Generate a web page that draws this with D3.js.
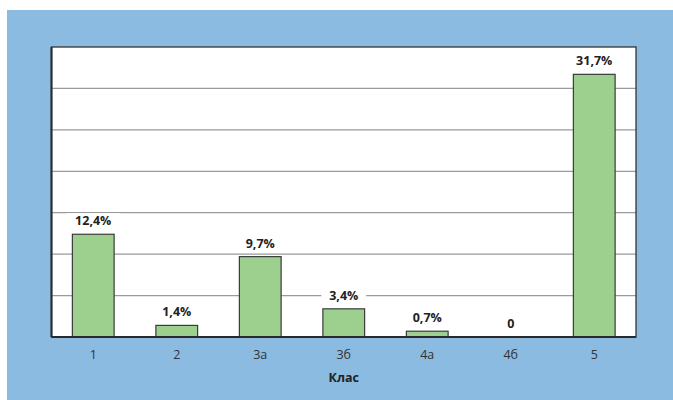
<!DOCTYPE html>
<html>
<head>
<meta charset="utf-8">
<script src="https://cdn.jsdelivr.net/npm/d3@7"></script>
<style>
  body { margin: 0; background: #fff; }
  text { font-family: "Open Sans", sans-serif; }
</style>
</head>
<body>
<script>
var width = 673,
    height = 400;

// data
var classes = ["1", "2", "3а", "3б", "4а", "4б", "5"];
var shares = [12.4, 1.4, 9.7, 3.4, 0.7, 0, 31.7];
var shareLabels = ["12,4%", "1,4%", "9,7%", "3,4%", "0,7%", "0", "31,7%"];
var yTicks = [0, 5, 10, 15, 20, 25, 30, 35];
var xTitle = "Клас";

var margin = { left: 51.5, right: 37, top: 47, bottom: 63 };
var w = width - margin.left - margin.right,
    h = height - margin.top - margin.bottom;

var svg = d3.select("body").append("svg")
    .attr("width", width)
    .attr("height", height);

// blue panel
svg.append("rect")
    .attr("x", 7).attr("y", 10)
    .attr("width", width - 7).attr("height", height - 10)
    .attr("fill", "#8bbbe0");

var g = svg.append("g")
    .attr("transform", "translate(" + margin.left + "," + margin.top + ")");

var x = d3.scaleBand()
    .domain(classes)
    .range([0, w])
    .paddingInner(0.5)
    .paddingOuter(0.25);

var y = d3.scaleLinear()
    .domain([0, 35])
    .range([h, 0]);

g.append("rect")
    .attr("width", w).attr("height", h)
    .attr("fill", "#fff");

// gridlines
g.selectAll(".grid")
  .data(yTicks.slice(1, -1))
  .enter().append("line")
    .attr("class", "grid")
    .attr("x1", 0).attr("x2", w)
    .attr("y1", function(d) { return y(d); })
    .attr("y2", function(d) { return y(d); })
    .attr("stroke", "#9a9a9a")
    .attr("stroke-width", 1.2);

// frame
g.append("rect")
    .attr("width", w).attr("height", h)
    .attr("fill", "none")
    .attr("stroke", "#333")
    .attr("stroke-width", 1.3);

// bars
g.selectAll(".bar")
  .data(shares)
  .enter().append("rect")
    .attr("class", "bar")
    .attr("x", function(d, i) { return x(classes[i]); })
    .attr("width", x.bandwidth())
    .attr("y", function(d) { return y(d); })
    .attr("height", function(d) { return h - y(d); })
    .attr("fill", "#9dd08f")
    .attr("stroke", "#3a3a3a")
    .attr("stroke-width", 1.2);

// value labels with white knock-out
var lab = g.selectAll(".lab")
  .data(shares)
  .enter().append("g")
    .attr("class", "lab")
    .attr("transform", function(d, i) {
      return "translate(" + (x(classes[i]) + x.bandwidth() / 2) + "," + (y(d) - 9) + ")";
    });

lab.append("rect")
    .attr("x", function(d, i) { return -shareLabels[i].length * 4.6 - 4; })
    .attr("width", function(d, i) { return shareLabels[i].length * 9.2 + 8; })
    .attr("y", -12).attr("height", 15)
    .attr("fill", "#fff");

lab.append("text")
    .attr("text-anchor", "middle")
    .attr("font-size", 12.5)
    .attr("font-weight", "bold")
    .attr("fill", "#222")
    .text(function(d, i) { return shareLabels[i]; });

// axes lines (left + bottom thicker)
g.append("line")
    .attr("x1", 0).attr("x2", 0).attr("y1", 0).attr("y2", h)
    .attr("stroke", "#2a2a2a").attr("stroke-width", 2);
g.append("line")
    .attr("x1", 0).attr("x2", w).attr("y1", h).attr("y2", h)
    .attr("stroke", "#2a2a2a").attr("stroke-width", 2);

var xAxis = g.append("g")
    .attr("transform", "translate(0," + h + ")")
    .call(d3.axisBottom(x).tickSize(0).tickPadding(13));
xAxis.select(".domain").remove();
xAxis.selectAll("text")
    .attr("font-size", 12.5)
    .attr("font-family", "Open Sans, sans-serif")
    .attr("fill", "#333");

svg.append("text")
    .attr("x", margin.left + w / 2)
    .attr("y", 382)
    .attr("text-anchor", "middle")
    .attr("font-size", 12.5)
    .attr("font-weight", "bold")
    .attr("fill", "#222")
    .text(xTitle);
</script>
</body>
</html>
